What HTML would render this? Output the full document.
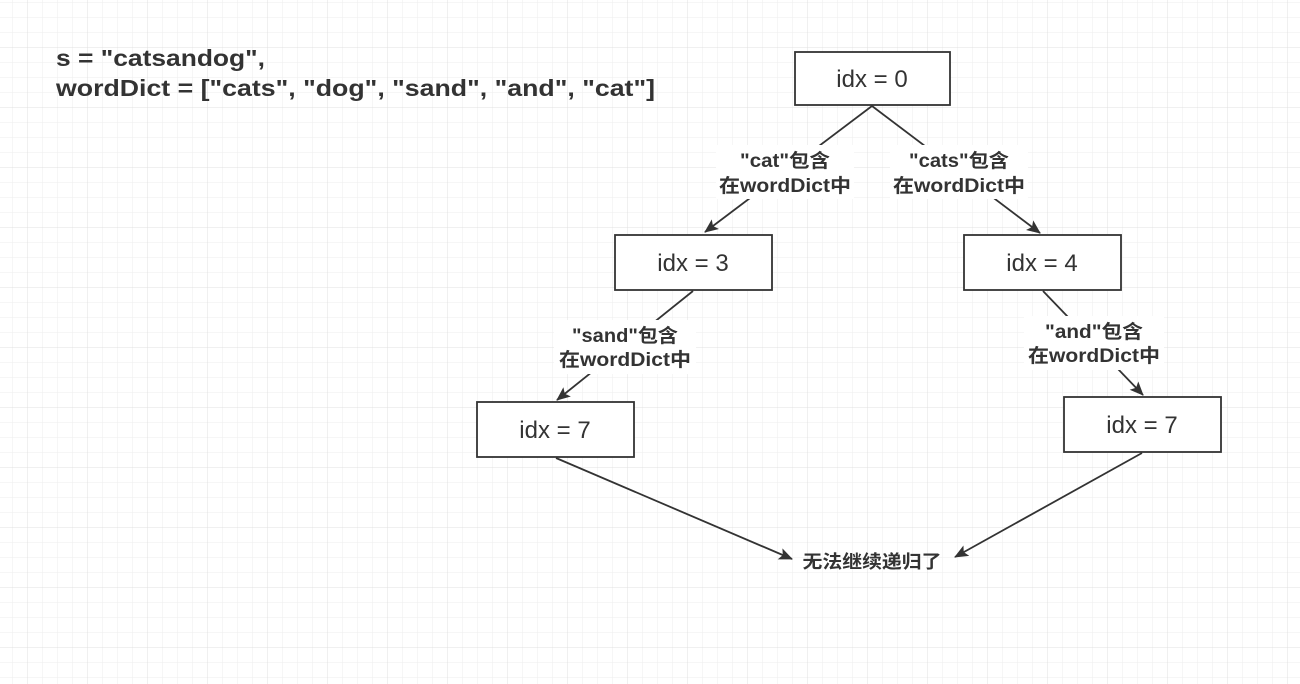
<!DOCTYPE html>
<html><head><meta charset="utf-8"><style>
html,body{margin:0;padding:0;width:1300px;height:684px;overflow:hidden;background:#fff}
svg{display:block}
</style></head><body>
<svg width="1300" height="684" xmlns="http://www.w3.org/2000/svg">
<defs>
<pattern id="mi" width="15" height="15" patternUnits="userSpaceOnUse" x="12" y="2">
<path d="M0 0H15M0 0V15" stroke="#eeeeee" stroke-width="1" fill="none"/>
</pattern>
<pattern id="ma" width="60" height="60" patternUnits="userSpaceOnUse" x="27" y="47">
<path d="M0 0H60M0 0V60" stroke="#e0e0e0" stroke-width="1" fill="none"/>
</pattern>
<marker id="ar" markerWidth="14" markerHeight="14" refX="13" refY="7" orient="auto" markerUnits="userSpaceOnUse">
<path d="M0 1L14 7L0 13L3 7Z" fill="#333"/>
</marker>
</defs>
<rect width="1300" height="684" fill="url(#mi)"/>
<rect width="1300" height="684" fill="url(#ma)"/>
<g font-family="Liberation Sans, Noto Sans CJK SC, sans-serif" fill="#333" font-weight="bold" font-size="23">
<text x="56" y="66" textLength="209" lengthAdjust="spacingAndGlyphs">s = "catsandog",</text>
<text x="56" y="96" textLength="599" lengthAdjust="spacingAndGlyphs">wordDict = ["cats", "dog", "sand", "and", "cat"]</text>
</g>
<g stroke="#333" stroke-width="1.8" fill="none">
<line x1="872" y1="106" x2="705" y2="232" marker-end="url(#ar)"/>
<line x1="872" y1="106" x2="1040" y2="233" marker-end="url(#ar)"/>
<line x1="693" y1="291" x2="557" y2="400" marker-end="url(#ar)"/>
<line x1="1043" y1="291" x2="1143" y2="395" marker-end="url(#ar)"/>
<line x1="556" y1="458" x2="792" y2="559" marker-end="url(#ar)"/>
<line x1="1142" y1="453" x2="955" y2="557" marker-end="url(#ar)"/>
</g>
<g fill="#fff">
<rect x="716" y="145" width="138" height="54"/>
<rect x="890" y="145" width="138" height="54"/>
<rect x="554" y="320" width="142" height="54"/>
<rect x="1024" y="316" width="140" height="54"/>
</g>
<g fill="#fff" stroke="#333" stroke-width="1.8">
<rect x="795" y="52" width="155" height="53"/>
<rect x="615" y="235" width="157" height="55"/>
<rect x="964" y="235" width="157" height="55"/>
<rect x="477" y="402" width="157" height="55"/>
<rect x="1064" y="397" width="157" height="55"/>
</g>
<g font-family="Liberation Sans, Noto Sans CJK SC, sans-serif" font-size="24" fill="#333" text-anchor="middle">
<text x="872" y="87">idx = 0</text>
<text x="693" y="271">idx = 3</text>
<text x="1042" y="271">idx = 4</text>
<text x="555" y="438">idx = 7</text>
<text x="1142" y="433">idx = 7</text>
</g>
<g font-family="Liberation Sans, Noto Sans CJK SC, sans-serif" font-size="19" font-weight="bold" fill="#333" text-anchor="middle">
<text x="785" y="167" textLength="90" lengthAdjust="spacingAndGlyphs">"cat"包含</text>
<text x="785" y="192" textLength="132" lengthAdjust="spacingAndGlyphs">在wordDict中</text>
<text x="959" y="167" textLength="100" lengthAdjust="spacingAndGlyphs">"cats"包含</text>
<text x="959" y="192" textLength="132" lengthAdjust="spacingAndGlyphs">在wordDict中</text>
<text x="625" y="342" textLength="106" lengthAdjust="spacingAndGlyphs">"sand"包含</text>
<text x="625" y="366" textLength="132" lengthAdjust="spacingAndGlyphs">在wordDict中</text>
<text x="1094" y="338" textLength="98" lengthAdjust="spacingAndGlyphs">"and"包含</text>
<text x="1094" y="362" textLength="132" lengthAdjust="spacingAndGlyphs">在wordDict中</text>
<text x="872" y="568" font-size="18" textLength="139" lengthAdjust="spacingAndGlyphs">无法继续递归了</text>
</g>
</svg>
</body></html>
